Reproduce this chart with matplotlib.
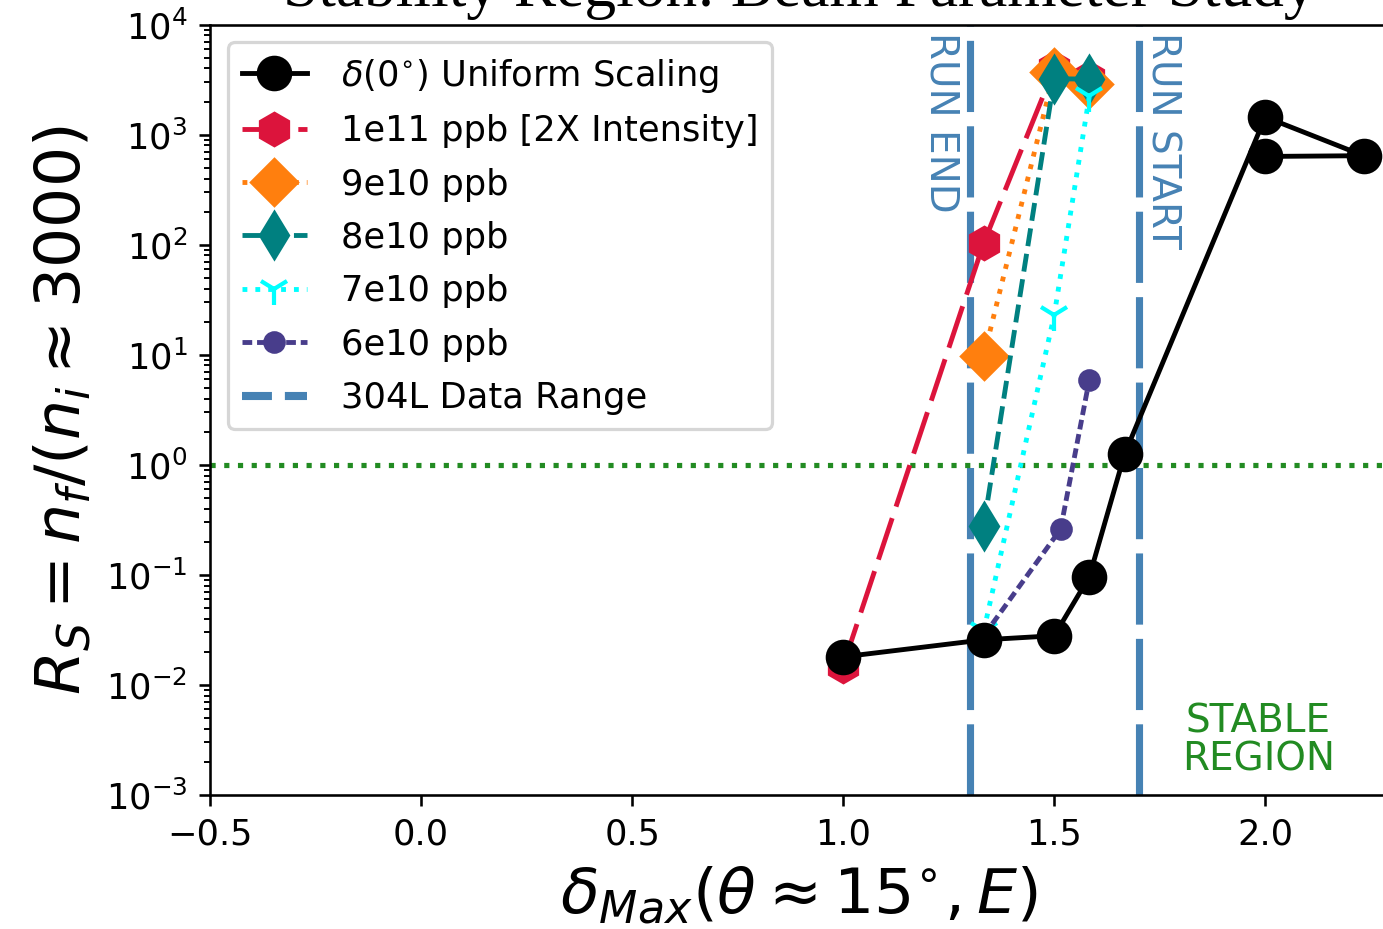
import matplotlib
matplotlib.use("Agg")
import matplotlib.pyplot as plt
from matplotlib.lines import Line2D

# Uniform scaling of delta(0 deg)
uniform_x = [1.0, 1.333, 1.5, 1.583, 1.667, 2.0, 2.233, 2.0]
uniform_y = [0.018, 0.0257, 0.028, 0.096, 1.26, 1450, 645, 635]

# Bunch-intensity scans
ppb_1e11_x = [1.0, 1.333, 1.5, 1.583]
ppb_1e11_y = [0.015, 104, 4000, 3300]

ppb_9e10_x = [1.333, 1.5, 1.583]
ppb_9e10_y = [9.7, 3700, 2900]

ppb_8e10_x = [1.333, 1.5, 1.583]
ppb_8e10_y = [0.28, 3230, 3200]

ppb_7e10_x = [1.333, 1.5, 1.583]
ppb_7e10_y = [0.031, 23, 2230]

ppb_6e10_x = [1.333, 1.515, 1.583]
ppb_6e10_y = [0.028, 0.26, 5.9]

# 304L data range limits and stability threshold
run_end_x = 1.3
run_start_x = 1.7
threshold_y = 1.0

DPI = 233
fig = plt.figure(figsize=(1383.3 / DPI, 929.3 / DPI), dpi=DPI)
ax = fig.add_axes([210 / 1383, 134 / 929, 422 * 2.79 / 1383, 770 / 929])

steel = "#4682b4"
ax.axvline(run_end_x, color=steel, lw=2.2, linestyle=(0, (10, 2)), zorder=1)
ax.axvline(run_start_x, color=steel, lw=2.2, linestyle=(0, (10, 2)), zorder=1)
ax.axhline(threshold_y, color="forestgreen", lw=1.6, linestyle=":", zorder=1.5)

l_red, = ax.plot(ppb_1e11_x, ppb_1e11_y, color="crimson", marker="h", ms=10,
                 lw=1.5, linestyle=(0, (9, 2.5)), label="1e11 ppb [2X Intensity]")
l_orange, = ax.plot(ppb_9e10_x, ppb_9e10_y, color="#ff7f0e", marker="D", ms=10,
                    lw=1.5, linestyle=":", label="9e10 ppb")
l_teal, = ax.plot(ppb_8e10_x, ppb_8e10_y, color="teal", marker="d", ms=10,
                  lw=1.5, linestyle="--", label="8e10 ppb")
l_cyan, = ax.plot(ppb_7e10_x, ppb_7e10_y, color="cyan", marker="1", ms=10,
                  mew=1.3, lw=1.5, linestyle=":", label="7e10 ppb")
l_purple, = ax.plot(ppb_6e10_x, ppb_6e10_y, color="darkslateblue", marker="o",
                    ms=6, lw=1.5, linestyle=(0, (2, 1)), label="6e10 ppb")
l_black, = ax.plot(uniform_x, uniform_y, color="black", marker="o", ms=10,
                   lw=1.5, linestyle="-", zorder=3,
                   label=r"$\delta(0^{\circ})$ Uniform Scaling")

range_handle = Line2D([], [], color=steel, lw=2.5, linestyle="--",
                      label="304L Data Range")

ax.set_yscale("log")
ax.set_xlim(-0.5, 2.29)
ax.set_ylim(1e-3, 1e4)
ax.tick_params(axis="both", which="both", labelsize=10.9)

ax.text(1.278, 8600, "RUN END", rotation=270, color=steel, fontsize=12,
        ha="right", va="top")
ax.text(1.711, 8600, "RUN START", rotation=270, color=steel, fontsize=12,
        ha="left", va="top")
ax.text(1.984, 10 ** -2.5, "STABLE\nREGION", color="forestgreen", fontsize=12,
        ha="center", va="center", linespacing=1.0)

ax.set_xlabel(r"$\delta_{Max}(\theta \approx 15^{\circ}, E)$", fontsize=19.6)
ax.set_ylabel(r"$R_S = n_f/(n_i \approx 3000)$", fontsize=19.6)
ax.set_title("Stability Region: Beam Parameter Study", fontsize=19.6,
             family="Liberation Serif")

ax.legend(handles=[l_black, l_red, l_orange, l_teal, l_cyan, l_purple,
                   range_handle], loc="upper left", fontsize=10.9,
          labelspacing=0.55, handlelength=1.85, handletextpad=0.95)

fig.savefig("out.png", dpi=DPI)
